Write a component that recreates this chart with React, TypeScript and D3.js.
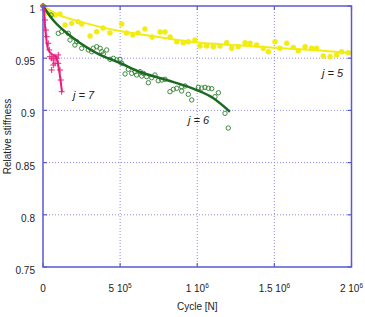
import * as d3 from "d3";

// cycles in thousands, relative stiffness
const j5Cycles = [0, 24, 45, 78, 110, 143, 186, 227, 251, 305, 348, 389, 434, 510, 542, 583, 616, 661, 707, 759, 791, 824, 867, 910, 942, 985, 1018, 1061, 1104, 1147, 1191, 1223, 1266, 1310, 1342, 1385, 1428, 1461, 1504, 1536, 1580, 1623, 1655, 1699, 1742, 1774, 1817, 1861, 1904, 1936, 1979];
const j5Values = [1.0, 0.9936, 0.9923, 0.9914, 0.9923, 0.9818, 0.9834, 0.985, 0.9828, 0.9713, 0.9754, 0.9789, 0.9741, 0.9828, 0.9741, 0.9722, 0.9741, 0.978, 0.9703, 0.9751, 0.9751, 0.9703, 0.9658, 0.9648, 0.9658, 0.9674, 0.9617, 0.9617, 0.961, 0.9617, 0.9648, 0.9595, 0.961, 0.9648, 0.9643, 0.9626, 0.9595, 0.9562, 0.9658, 0.9595, 0.9643, 0.9604, 0.9572, 0.961, 0.9595, 0.9595, 0.9521, 0.9514, 0.9531, 0.9562, 0.9553];

const j6Cycles = [0, 52, 99, 121, 164, 175, 207, 218, 251, 294, 316, 326, 348, 370, 381, 391, 413, 434, 456, 478, 499, 510, 532, 553, 575, 596, 607, 629, 640, 650, 672, 683, 705, 726, 747, 770, 791, 823, 845, 867, 899, 899, 921, 942, 964, 1007, 1029, 1050, 1072, 1094, 1115, 1137, 1180, 1201];
const j6Values = [1.0, 0.9914, 0.9738, 0.9754, 0.9738, 0.9674, 0.9626, 0.9658, 0.9595, 0.9579, 0.9562, 0.9595, 0.961, 0.9595, 0.9562, 0.954, 0.9579, 0.9489, 0.9499, 0.9483, 0.9489, 0.9451, 0.9349, 0.9394, 0.9355, 0.9371, 0.9339, 0.9371, 0.9329, 0.9355, 0.9323, 0.9265, 0.9313, 0.9339, 0.9284, 0.9291, 0.9298, 0.9179, 0.9202, 0.9212, 0.9186, 0.9227, 0.9234, 0.9154, 0.91, 0.9221, 0.9214, 0.9221, 0.9212, 0.9208, 0.9131, 0.9169, 0.8972, 0.8831];

const j7Cycles = [0, 2, 13, 19, 24, 34, 41, 45, 56, 67, 78, 89, 99, 78, 56, 67, 99, 110, 115, 121];
const j7Values = [1.0, 0.9962, 0.9866, 0.977, 0.9706, 0.9643, 0.9579, 0.9514, 0.9499, 0.9483, 0.9514, 0.9499, 0.9531, 0.9451, 0.9387, 0.9435, 0.9451, 0.9387, 0.9291, 0.9179];

// fitted trend curves
const j5FitCycles = [0, 110, 240, 370, 500, 630, 800, 1000, 1250, 1500, 1750, 2000];
const j5FitValues = [1.0, 0.991, 0.985, 0.98, 0.976, 0.973, 0.969, 0.965, 0.9625, 0.96, 0.9578, 0.955];
const j6FitCycles = [0, 65, 154, 240, 370, 499, 629, 802, 996, 1102, 1212];
const j6FitValues = [1.0, 0.9866, 0.9741, 0.9646, 0.9531, 0.9454, 0.9368, 0.9291, 0.9195, 0.9119, 0.8987];
const j7FitCycles = [0, 6, 11, 21, 32, 54, 86, 97, 108, 123];
const j7FitValues = [1.0, 0.9974, 0.9847, 0.9687, 0.9591, 0.9543, 0.9511, 0.9447, 0.9351, 0.9176];

const xTicks = [0, 500, 1000, 1500, 2000];
const xTickLabels = [["0", ""], ["5 10", "5"], ["1 10", "6"], ["1.5 10", "6"], ["2 10", "6"]];
const yTicks = [0.75, 0.8, 0.85, 0.9, 0.95, 1];
const yTickLabels = ["0.75", "0.8", "0.85", "0.9", "0.95", "1"];

const W = 365, H = 317;
const left = 43, right = 351.5, top = 6, bottom = 267;
const frame = "#5a5ad2";
const font = "Liberation Sans, Arial, sans-serif";

const zip = (xs: number[], ys: number[]) => xs.map((x, i) => [x, ys[i]] as [number, number]);

export default function App() {
  const x = d3.scaleLinear().domain([0, 2000]).range([left, right]);
  const y = d3.scaleLinear().domain([0.75, 1]).range([bottom, top]);
  const line = d3.line<[number, number]>().x(d => x(d[0])).y(d => y(d[1])).curve(d3.curveMonotoneX);

  const j5 = zip(j5Cycles, j5Values);
  const j6 = zip(j6Cycles, j6Values);
  const j7 = zip(j7Cycles, j7Values);

  return (
    <svg width={W} height={H} style={{ position: "absolute", left: 0, top: 0, background: "#fff" }}>
      {/* grid */}
      {xTicks.slice(1, -1).map(t => (
        <line key={"gx" + t} x1={x(t)} x2={x(t)} y1={top} y2={bottom} stroke="#8c8ce6" strokeWidth={1} strokeDasharray="1,2" />
      ))}
      {yTicks.slice(1, -1).map(t => (
        <line key={"gy" + t} x1={left} x2={right} y1={y(t)} y2={y(t)} stroke="#8c8ce6" strokeWidth={1} strokeDasharray="1,2" />
      ))}

      {/* j = 5 */}
      <path d={line(zip(j5FitCycles, j5FitValues)) || ""} fill="none" stroke="#f2ec12" strokeWidth={2} />
      {j5.map((d, i) => (
        <circle key={"a" + i} cx={x(d[0])} cy={y(d[1])} r={2.7} fill="#f2ec12" />
      ))}

      {/* j = 6 */}
      {j6.map((d, i) => (
        <circle key={"b" + i} cx={x(d[0])} cy={y(d[1])} r={2.2} fill="none" stroke="#3d8a3d" strokeWidth={1} />
      ))}
      <path d={line(zip(j6FitCycles, j6FitValues)) || ""} fill="none" stroke="#1a6a22" strokeWidth={2.5} />

      {/* j = 7 */}
      <path d={line(zip(j7FitCycles, j7FitValues)) || ""} fill="none" stroke="#e6207c" strokeWidth={2} />
      {j7.map((d, i) => (
        <path key={"c" + i} d={`M${x(d[0]) - 3},${y(d[1])}h6M${x(d[0])},${y(d[1]) - 3}v6`} stroke="#e6207c" strokeWidth={1} />
      ))}

      {/* frame and ticks */}
      <rect x={left} y={top} width={right - left} height={bottom - top} fill="none" stroke={frame} strokeWidth={1.5} />
      {xTicks.map(t => (
        <g key={"tx" + t}>
          <line x1={x(t)} x2={x(t)} y1={bottom} y2={bottom - 4} stroke={frame} strokeWidth={1.2} />
          <line x1={x(t)} x2={x(t)} y1={top} y2={top + 4} stroke={frame} strokeWidth={1.2} />
        </g>
      ))}
      {yTicks.map(t => (
        <g key={"ty" + t}>
          <line x1={left} x2={left + 4} y1={y(t)} y2={y(t)} stroke={frame} strokeWidth={1.2} />
          <line x1={right} x2={right - 4} y1={y(t)} y2={y(t)} stroke={frame} strokeWidth={1.2} />
        </g>
      ))}

      {/* tick labels */}
      {yTicks.map((t, i) => (
        <text key={"ly" + t} x={35} y={y(t) + 7} textAnchor="end" fontFamily={font} fontSize={10} fill="#222">{yTickLabels[i]}</text>
      ))}
      {xTicks.map((t, i) => (
        <text key={"lx" + t} x={x(t)} y={291.5} textAnchor="middle" fontFamily={font} fontSize={10} fill="#222">
          {xTickLabels[i][0]}
          {xTickLabels[i][1] && <tspan dy={-4} fontSize={6.5}>{xTickLabels[i][1]}</tspan>}
        </text>
      ))}

      {/* axis titles */}
      <text x={(left + right) / 2} y={310} textAnchor="middle" fontFamily={font} fontSize={10} fill="#222">Cycle [N]</text>
      <text transform={`translate(11,${(top + bottom) / 2}) rotate(-90)`} textAnchor="middle" fontFamily={font} fontSize={10} fill="#222">Relative stiffness</text>

      {/* curve labels */}
      <text x={73} y={99} fontFamily={font} fontStyle="italic" fontSize={11} fill="#222">j = 7</text>
      <text x={188} y={124} fontFamily={font} fontStyle="italic" fontSize={11} fill="#222">j = 6</text>
      <text x={322} y={77} fontFamily={font} fontStyle="italic" fontSize={11} fill="#222">j = 5</text>
    </svg>
  );
}
